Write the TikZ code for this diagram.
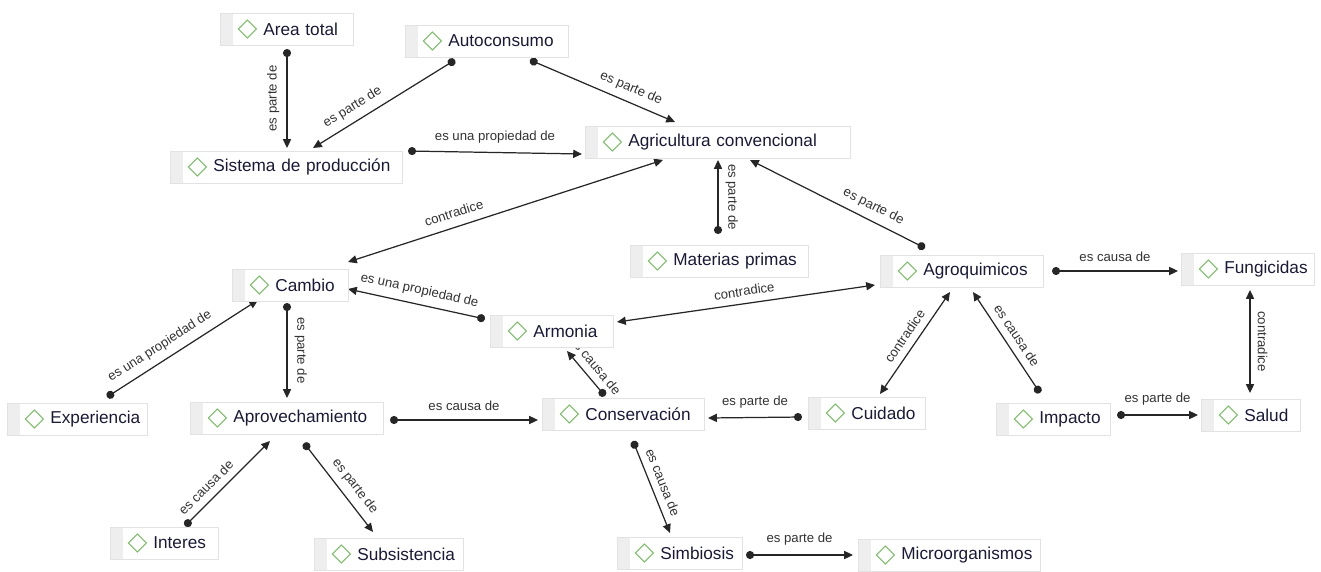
\documentclass[tikz,border=0pt]{standalone}
\usepackage{fontspec}
\setmainfont{Liberation Sans}
\usetikzlibrary{arrows.meta}
\definecolor{tabgray}{HTML}{EEEEEE}
\definecolor{boxline}{HTML}{E2E2E2}
\definecolor{icongreen}{HTML}{7DBF6A}
\definecolor{codetext}{HTML}{1A1A38}
\definecolor{reltext}{HTML}{333333}
\pgfdeclarelayer{bg}
\pgfsetlayers{bg,main}

\begin{document}
\begin{tikzpicture}[x=0.02cm, y=-0.02cm, >={Triangle[length=5pt,width=4.6pt]},
  code/.style={draw=boxline, fill=white, anchor=west, minimum height=0.64cm,
    inner xsep=0pt, inner ysep=0pt, text width=#1, align=left, text=codetext,
    font=\fontsize{9.8}{11}\selectfont,
    execute at begin node={\hspace*{0.86cm}\hbox\bgroup},
    execute at end node={\egroup},
    path picture={
      \fill[tabgray] (path picture bounding box.south west) rectangle ([xshift=0.26cm]path picture bounding box.north west);
      \draw[icongreen, line width=0.6pt] ([xshift=0.54cm]path picture bounding box.west) ++(-0.18cm,0)
        -- ++(0.18cm,0.18cm) -- ++(0.18cm,-0.18cm) -- ++(-0.18cm,-0.18cm) -- cycle;
    }},
  rel/.style={{Circle[length=4.6pt]}->, line width=0.7pt, black!85},
  both/.style={<->, line width=0.7pt, black!85},
  lab/.style={midway, font=\fontsize{7.5}{8}\selectfont, text=reltext, inner sep=1pt}]
\useasboundingbox (0,0) rectangle (1321,571);

% codes
\node[code=2.66cm] (area) at (220,29)  {Area total};
\node[code=3.26cm] (auto) at (405,41)  {Autoconsumo};
\node[code=4.64cm] (sis)  at (170,167) {Sistema de producción};
\node[code=5.30cm] (agri) at (585,142) {Agricultura convencional};
\node[code=3.56cm] (mat)  at (630,261) {Materias primas};
\node[code=2.32cm] (cam)  at (232,285) {Cambio};
\node[code=2.46cm] (arm)  at (490,331) {Armonia};
\node[code=3.26cm] (agro) at (880,271) {Agroquimicos};
\node[code=2.66cm] (fung) at (1181,269) {Fungicidas};
\node[code=2.80cm] (exp)  at (7,419)   {Experiencia};
\node[code=3.86cm] (apro) at (190,418) {Aprovechamiento};
\node[code=3.24cm] (cons) at (542,414) {Conservación};
\node[code=2.34cm] (cuid) at (808,413) {Cuidado};
\node[code=2.28cm] (imp)  at (996,419) {Impacto};
\node[code=1.98cm] (sal)  at (1201,415) {Salud};
\node[code=2.16cm] (int)  at (110,543) {Interes};
\node[code=2.98cm] (sub)  at (314,554) {Subsistencia};
\node[code=2.50cm] (sim)  at (617,553) {Simbiosis};
\node[code=3.64cm] (mic)  at (858,555) {Microorganismos};

% relations
\begin{pgfonlayer}{bg}
\draw[rel] ([shift={(67,20)}]area.west) -- node[lab,rotate=90,above=3pt]{es parte de} ([shift={(117,-19)}]sis.west);
\draw[rel] ([shift={(50,19)}]auto.west) -- node[lab,pos=0.67,sloped,above=3pt]{es parte de} ([shift={(143,-19)}]sis.west);
\draw[rel] ([shift={(125,19)}]auto.west) -- node[lab,pos=0.66,sloped,above=3pt]{es parte de} ([shift={(90,-20)}]agri.west);
\draw[rel] ([shift={(238,-16)}]sis.west) -- node[lab,above=4pt]{es una propiedad de} ([shift={(-3,12)}]agri.west);
\draw[both] ([shift={(78,18)}]agri.west) -- node[lab,pos=0.65,sloped,above=4pt]{contradice} ([shift={(116,-23)}]cam.west);
\draw[rel] ([shift={(88,-27)}]mat.west) -- node[lab,rotate=-90,above=3pt]{es parte de} ([shift={(133,18)}]agri.west);
\draw[rel] ([shift={(45,-23)}]agro.west) -- node[lab,pos=0.33,sloped,above=3pt]{es parte de} ([shift={(165,18)}]agri.west);
\draw[rel] ([shift={(-5,-12)}]arm.west) -- node[lab,sloped,above=3pt]{es una propiedad de} ([shift={(116,4)}]cam.west);
\draw[both] ([shift={(-5,14)}]agro.west) -- node[lab,sloped,above=3pt]{contradice} ([shift={(127,-9)}]arm.west);
\draw[rel] ([shift={(172,0)}]agro.west) -- node[lab,above=4pt]{es causa de} ([shift={(-3,2)}]fung.west);
\draw[rel] ([shift={(55,18)}]cam.west) -- node[lab,rotate=-90,above=3pt]{es parte de} ([shift={(97,-20)}]apro.west);
\draw[rel] ([shift={(100,-22)}]exp.west) -- node[lab,pos=0.4,sloped,above=3pt]{es una propiedad de} ([shift={(26,15)}]cam.west);
\draw[rel] ([shift={(63,-18)}]cons.west) -- node[lab,sloped,above=3pt]{es causa de} ([shift={(77,20)}]arm.west);
\draw[both] ([shift={(70,21)}]agro.west) -- node[lab,sloped,above=3pt]{contradice} ([shift={(72,-19)}]cuid.west);
\draw[rel] ([shift={(44,-26)}]imp.west) -- node[lab,sloped,above=3pt]{es causa de} ([shift={(93,21)}]agro.west);
\draw[both] ([shift={(69,21)}]fung.west) -- node[lab,rotate=-90,above=3pt]{contradice} ([shift={(49,-22)}]sal.west);
\draw[rel] ([shift={(200,2)}]apro.west) -- node[lab,above=4pt]{es causa de} ([shift={(-4,6)}]cons.west);
\draw[rel] ([shift={(-6,4)}]cuid.west) -- node[lab,above=4pt]{es parte de} ([shift={(166,4)}]cons.west);
\draw[rel] ([shift={(121,-4)}]imp.west) -- node[lab,above=4pt]{es parte de} ([shift={(-3,0)}]sal.west);
\draw[rel] ([shift={(75,-17)}]int.west) -- node[lab,pos=0.35,sloped,above=3pt]{es causa de} ([shift={(80,23)}]apro.west);
\draw[rel] ([shift={(114,25)}]apro.west) -- node[lab,pos=0.58,sloped,above=3pt]{es parte de} ([shift={(59,-22)}]sub.west);
\draw[rel] ([shift={(91,27)}]cons.west) -- node[lab,sloped,above=3pt]{es causa de} ([shift={(53,-20)}]sim.west);
\draw[rel] ([shift={(129,2)}]sim.west) -- node[lab,above=4pt]{es parte de} ([shift={(-5,0)}]mic.west);
\end{pgfonlayer}
\end{tikzpicture}
\end{document}
